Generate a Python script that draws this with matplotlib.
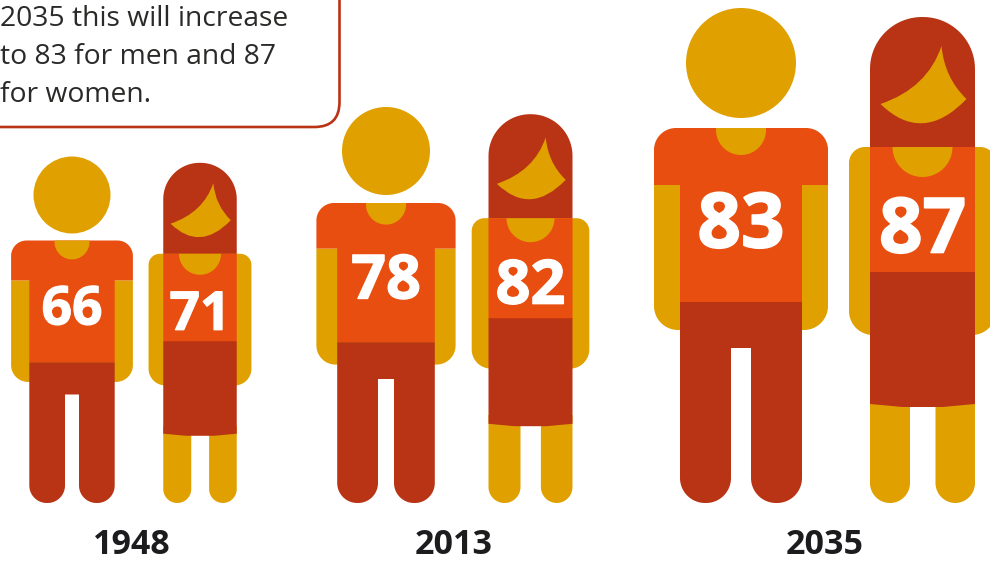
#!/usr/bin/env python3
# Life expectancy pictogram: a man and a woman for each of three years.
import numpy as np
import matplotlib
matplotlib.use('Agg')
import matplotlib.pyplot as plt
import matplotlib.patheffects as pe
from matplotlib.patches import Circle, Polygon, PathPatch, FancyBboxPatch
from matplotlib.path import Path

YEARS = ['1948', '2013', '2035']
MEN_AGE = [66, 78, 83]
WOMEN_AGE = [71, 82, 87]
NOTE_LINES = ['2035 this will increase', 'to 83 for men and 87', 'for women.']

# figure layout in pixels
MAN_X = [72, 386, 741]
WOMAN_X = [200, 530.5, 922.5]
YEAR_X = [132, 454, 825]
SCALE = [0.70, 0.80, 1.0]
BASE = 503

ORANGE = '#e84e10'
DARK = '#b93414'
YELLOW = '#e0a000'
INK = '#1c1c1e'
NOTE_INK = '#2b2a29'
NUM_FONT = 'Open Sans'

fig = plt.figure(figsize=(9.9, 5.63), dpi=100)
ax = fig.add_axes([0, 0, 1, 1])
ax.set_xlim(0, 990)
ax.set_ylim(563, 0)
ax.axis('off')


def rrect(x0, y0, x1, y1, tl=0, tr=0, br=0, bl=0):
    # rectangle with its own radius per corner; y runs downwards
    pts = []
    corners = [(x0 + tl, y0 + tl, tl, 180, 270), (x1 - tr, y0 + tr, tr, 270, 360),
               (x1 - br, y1 - br, br, 0, 90), (x0 + bl, y1 - bl, bl, 90, 180)]
    for cx, cy, r, a0, a1 in corners:
        t = np.radians(np.linspace(a0, a1, 24))
        pts += list(zip(cx + r * np.cos(t), cy + r * np.sin(t)))
    return np.array(pts)


def shape(cx, s, pts, color, z):
    # unit shape is drawn around x=0 with y measured up from the feet
    xy = np.array(pts, dtype=float)
    xy = np.column_stack([cx + xy[:, 0] * s, BASE + xy[:, 1] * s])
    ax.add_patch(Polygon(xy, closed=True, fc=color, ec='none', zorder=z, snap=False))


def number(cx, y, age, s, z):
    ax.text(cx, y, str(age), family=NUM_FONT, fontweight='bold', color='white',
            fontsize=55 * s, ha='center', va='center', zorder=z,
            path_effects=[pe.withStroke(linewidth=1.2 * s, foreground='white')])


def man(cx, s, age):
    ax.add_patch(Circle((cx, BASE - 440 * s), 55 * s, fc=YELLOW, ec='none', zorder=3))
    shape(cx, s, rrect(-87, -318, 87, -173, br=24, bl=24), YELLOW, 3)
    shape(cx, s, rrect(-87, -375, 87, -318, tl=22, tr=22), ORANGE, 4)
    shape(cx, s, rrect(-61, -320, 61, -201), ORANGE, 4)
    shape(cx, s, rrect(-25, -375, 25, -348, br=25, bl=25), YELLOW, 5)
    # trousers as one outline so the legs join the waist cleanly
    right_leg = rrect(10, -155, 61, 0, br=25, bl=25)[48:]
    left_leg = rrect(-61, -155, -10, 0, br=25, bl=25)[48:]
    trousers = np.vstack([[(-61, -201), (61, -201)], right_leg, [(10, -155), (-10, -155)], left_leg])
    shape(cx, s, trousers, DARK, 4)
    number(cx, BASE - 275 * s, age, s, 6)


def woman(cx, s, age):
    shape(cx, s, rrect(-52.5, -486, 52.5, -350, tl=52, tr=52), DARK, 3)
    # face under the fringe: tip, left cheek, chin curve, right cheek
    pts = [(19, -457), (5, -415), (-42, -399), (0, -358), (44, -404),
           (22, -425), (19, -457), (19, -457)]
    codes = [Path.MOVETO, Path.CURVE3, Path.CURVE3, Path.CURVE3, Path.CURVE3,
             Path.CURVE3, Path.CURVE3, Path.CLOSEPOLY]
    xy = [(cx + px * s, BASE + py * s) for px, py in pts]
    ax.add_patch(PathPatch(Path(xy, codes), fc=YELLOW, ec='none', zorder=5))
    shape(cx, s, rrect(-73.5, -356, 73.5, -168, tl=16, tr=16, br=24, bl=24), YELLOW, 3)
    shape(cx, s, rrect(-52.5, -356, 52.5, -230), ORANGE, 4)
    shape(cx, s, rrect(-30, -356, 30, -326, br=30, bl=30), YELLOW, 5)
    skirt = [(-52.5, -231), (52.5, -231), (52.5, -99), (20, -96), (-20, -96), (-52.5, -99)]
    shape(cx, s, skirt, DARK, 6)
    shape(cx, s, rrect(-52.5, -110, -12.5, 0, br=20, bl=20), YELLOW, 4)
    shape(cx, s, rrect(13, -110, 52.5, 0, br=20, bl=20), YELLOW, 4)
    number(cx, BASE - 276 * s + 6, age, s, 7)


for i, year in enumerate(YEARS):
    man(MAN_X[i], SCALE[i], MEN_AGE[i])
    woman(WOMAN_X[i], SCALE[i], WOMEN_AGE[i])
    ax.text(YEAR_X[i], 545, year, family=NUM_FONT, fontweight='bold', color=INK,
            fontsize=24.5, ha='center', va='center', zorder=7)

# note box runs off the top left corner
ax.add_patch(FancyBboxPatch((-60, -60), 399.5, 187, boxstyle='round,pad=0,rounding_size=25',
                            fc='white', ec=DARK, lw=1.9, zorder=8))
for y, line in zip([26, 64, 102.5], NOTE_LINES):
    ax.text(0, y, line, family='Open Sans', color=NOTE_INK, fontsize=20.3,
            ha='left', va='baseline', zorder=9)

fig.savefig('out.png', dpi=100, facecolor='white')
